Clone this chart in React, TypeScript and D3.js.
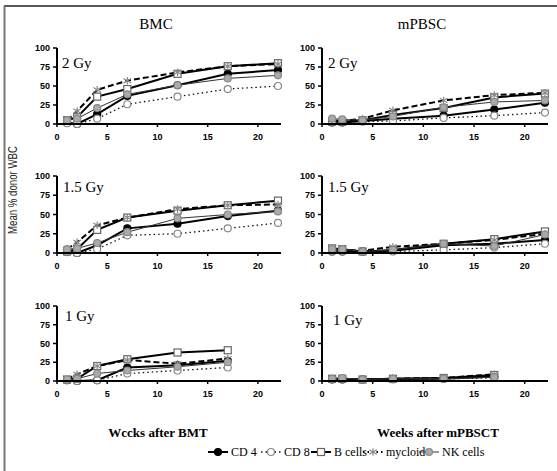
import React from "react";
import * as d3 from "d3";

const seriesNames = ["CD 4", "CD 8", "B cells", "mycloid", "NK cells"];
const weeksLong = [1, 2, 4, 7, 12, 17, 22];
const weeksShort = [1, 2, 4, 7, 12, 17];
const xTicks = [0, 5, 10, 15, 20];
const yTicks = [0, 25, 50, 75, 100];
const columnTitles = ["BMC", "mPBSC"];
const doseLabels = ["2 Gy", "1.5 Gy", "1 Gy"];
const xAxisTitles = ["Wccks after BMT", "Weeks after mPBSCT"];

// order: CD4, CD8, B cells, myeloid, NK
const bmc2Gy = [
  [2, 0, 13, 37, 51, 66, 71],
  [1, 0, 7, 26, 36, 46, 50],
  [5, 9, 36, 46, 66, 76, 80],
  [5, 17, 45, 57, 68, 76, 79],
  [5, 7, 21, 39, 51, 60, 64],
];
const pbsc2Gy = [
  [2, 2, 4, 7, 11, 19, 28],
  [2, 2, 3, 4, 8, 11, 15],
  [3, 3, 5, 12, 21, 35, 40],
  [5, 4, 7, 18, 31, 38, 41],
  [7, 6, 5, 10, 22, 29, 31],
];
const bmc15Gy = [
  [2, 0, 10, 32, 38, 48, 55],
  [1, 0, 5, 23, 25, 32, 39],
  [2, 5, 30, 46, 55, 62, 68],
  [5, 14, 36, 46, 57, 62, 63],
  [5, 6, 13, 27, 45, 50, 54],
];
const pbsc15Gy = [
  [2, 2, 2, 3, 10, 12, 17],
  [2, 2, 2, 2, 4, 7, 12],
  [6, 5, 2, 4, 12, 18, 28],
  [5, 4, 3, 8, 12, 17, 25],
  [5, 5, 2, 4, 12, 9, 24],
];
const bmc1Gy = [
  [1, 0, 1, 18, 21, 27],
  [1, 0, 1, 10, 14, 18],
  [2, 3, 20, 29, 38, 41],
  [2, 9, 20, 28, 23, 30],
  [2, 3, 10, 14, 19, 25],
];
const pbsc1Gy = [
  [2, 2, 2, 3, 3, 6],
  [2, 2, 2, 2, 3, 4],
  [3, 3, 2, 3, 4, 8],
  [3, 3, 2, 3, 4, 9],
  [3, 4, 2, 3, 3, 5],
];

const panelData = [
  [bmc2Gy, pbsc2Gy],
  [bmc15Gy, pbsc15Gy],
  [bmc1Gy, pbsc1Gy],
];
const panelWeeks = [weeksLong, weeksLong, weeksShort];

// layout
const colX = [
  [57, 281],
  [322, 548],
];
const rowY = [
  [124, 48],
  [253, 176],
  [381, 306],
];
const doseOffset = [
  [[5, 20], [6, 20]],
  [[6, 16], [6, 16]],
  [[8, 15], [11, 19]],
];

const styles = [
  { stroke: "#000", width: 2, dash: null, marker: "circle", fill: "#000", mstroke: "#000" },
  { stroke: "#111", width: 1.3, dash: "1.5,3", marker: "circle", fill: "#fff", mstroke: "#888" },
  { stroke: "#000", width: 2, dash: null, marker: "square", fill: "#fff", mstroke: "#666" },
  { stroke: "#000", width: 2, dash: "6,3", marker: "star", fill: "none", mstroke: "#888" },
  { stroke: "#333", width: 1, dash: null, marker: "circle", fill: "#aaa", mstroke: "#888" },
];

const tickFont = "'Liberation Sans Narrow', 'Liberation Sans', Arial, sans-serif";
const serif = "'Liberation Serif', 'Times New Roman', serif";

function Marker({ kind, x, y, fill, stroke }: any) {
  if (kind === "circle") return <circle cx={x} cy={y} r={3.5} fill={fill} stroke={stroke} strokeWidth={1.2} />;
  if (kind === "square") return <rect x={x - 3.5} y={y - 3.5} width={7} height={7} fill={fill} stroke={stroke} strokeWidth={1.2} />;
  const s = 3.8;
  return (
    <g stroke={stroke} strokeWidth={1.2}>
      <line x1={x} y1={y - s} x2={x} y2={y + s} />
      <line x1={x - s} y1={y - s * 0.6} x2={x + s} y2={y + s * 0.6} />
      <line x1={x - s} y1={y + s * 0.6} x2={x + s} y2={y - s * 0.6} />
    </g>
  );
}

function Panel({ row, col }: any) {
  const x = d3.scaleLinear().domain([0, 22.3]).range(colX[col]);
  const y = d3.scaleLinear().domain([0, 100]).range(rowY[row]);
  const weeks = panelWeeks[row];
  const data = panelData[row][col];
  const line = d3
    .line<number>()
    .x((_, i) => x(weeks[i]))
    .y((v) => y(v));
  const [dx, dy] = doseOffset[row][col];
  return (
    <g>
      {data.map((vals, s) => (
        <path
          key={"l" + s}
          d={line(vals) || ""}
          fill="none"
          stroke={styles[s].stroke}
          strokeWidth={styles[s].width}
          strokeDasharray={styles[s].dash || undefined}
        />
      ))}
      {data.map((vals, s) =>
        vals.map((v, i) => (
          <Marker key={s + "-" + i} kind={styles[s].marker} x={x(weeks[i])} y={y(v)} fill={styles[s].fill} stroke={styles[s].mstroke} />
        ))
      )}
      <line x1={x(0)} x2={x(22.3)} y1={y(0)} y2={y(0)} stroke="#000" strokeWidth={2} />
      <line x1={x(0)} x2={x(0)} y1={y(0) + 1} y2={y(100)} stroke="#000" strokeWidth={2} />
      {yTicks.map((t) => (
        <g key={"y" + t}>
          <line x1={x(0) - 4} x2={x(0)} y1={y(t)} y2={y(t)} stroke="#000" strokeWidth={1.5} />
          <text x={x(0) - 7} y={y(t) + 3} textAnchor="end" fontFamily={tickFont} fontWeight="bold" fontSize={9} fill="#000">
            {t}
          </text>
        </g>
      ))}
      {xTicks.map((t) => (
        <g key={"x" + t}>
          <line x1={x(t)} x2={x(t)} y1={y(0)} y2={y(0) + 3} stroke="#000" strokeWidth={1.5} />
          <text x={x(t)} y={y(0) + 16} textAnchor="middle" fontFamily={tickFont} fontWeight="bold" fontSize={9} fill="#000">
            {t}
          </text>
        </g>
      ))}
      <text x={x(0) + dx} y={y(100) + dy} fontFamily={serif} fontSize={15} fill="#000">
        {doseLabels[row]}
      </text>
    </g>
  );
}

const legendX = [208, 261, 311, 363, 419];

export default function App() {
  return (
    <svg width={557} height={471} style={{ position: "absolute", left: 0, top: 0, background: "#fff" }}>
      <rect x={0} y={0} width={557} height={471} fill="#fff" />
      <line x1={4} x2={557} y1={6} y2={6} stroke="#222" strokeWidth={1.5} />
      <line x1={4.5} x2={4.5} y1={6} y2={471} stroke="#777" strokeWidth={2} />
      <text x={156} y={29} textAnchor="middle" fontFamily={serif} fontSize={15}>
        {columnTitles[0]}
      </text>
      <text x={422} y={29} textAnchor="middle" fontFamily={serif} fontSize={15}>
        {columnTitles[1]}
      </text>
      <text
        transform="translate(17,190) rotate(-90)"
        textAnchor="middle"
        fontFamily="'Liberation Sans', Arial, sans-serif"
        fontSize={12.5}
        textLength={88}
        lengthAdjust="spacingAndGlyphs"
        fill="#222"
      >
        Mean % donor WBC
      </text>
      {[0, 1, 2].map((r) => [0, 1].map((c) => <Panel key={r + "-" + c} row={r} col={c} />))}
      <text x={158} y={437} textAnchor="middle" fontFamily={serif} fontWeight="bold" fontSize={13}>
        {xAxisTitles[0]}
      </text>
      <text x={438} y={437} textAnchor="middle" fontFamily={serif} fontWeight="bold" fontSize={13}>
        {xAxisTitles[1]}
      </text>
      {seriesNames.map((n, i) => {
        const lx = legendX[i];
        const st = styles[i];
        return (
          <g key={n}>
            <line x1={lx} x2={lx + 20} y1={452} y2={452} stroke={st.stroke} strokeWidth={st.width} strokeDasharray={st.dash ? "1.5,3" : undefined} />
            <Marker kind={st.marker} x={lx + 10} y={452} fill={st.fill} stroke={st.mstroke} />
            <text x={lx + 23} y={456} fontFamily={serif} fontSize={12} fill="#000">
              {n}
            </text>
          </g>
        );
      })}
    </svg>
  );
}
